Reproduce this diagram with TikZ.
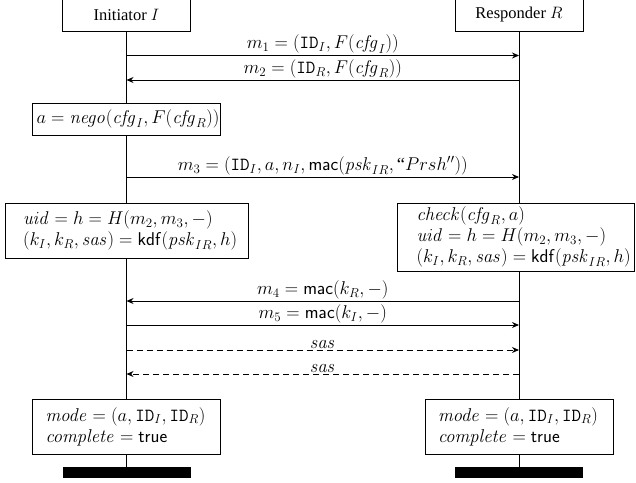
\RequirePackage{fix-cm}
\documentclass[tikz,border=0pt]{standalone}
\usepackage{amsmath}
\usepackage[no-math]{fontspec}
\setmainfont{Liberation Serif}
\usetikzlibrary{arrows.meta}
\tikzset{
  every node/.style={font=\fontsize{18.5}{21}\selectfont},
  head/.style={draw, fill=white, minimum width=128pt, minimum height=32pt, inner sep=0pt, line width=0.9pt, font=\fontsize{16.5}{20}\selectfont},
  act/.style={draw, fill=white, align=left, inner ysep=0pt, line width=0.9pt},
  bar/.style={fill=black, minimum width=128pt, minimum height=11pt, inner sep=0pt},
  msg/.style={-{Stealth[length=7pt,width=6pt]}, line width=0.9pt},
  dashmsg/.style={msg, dash pattern=on 6pt off 4pt},
  life/.style={line width=0.9pt},
  lab/.style={above, inner sep=1.5pt}
}
\begin{document}
\begin{tikzpicture}[x=1pt,y=-1pt]
\useasboundingbox (0,0) rectangle (636,482);
% bars
\node[bar] (Ibar) at (126.5,472.5) {};
\node[bar] (Rbar) at (519,472.5) {};
% headers
\node[head] (I) at (126.5,15) {Initiator $I$};
\node[head] (R) at (519,15) {Responder $R$};
% lifelines
\draw[life] (I.south) -- (Ibar.north);
\draw[life] (R.south) -- (Rbar.north);
% coordinates on lifelines
\foreach \n/\y in {1/55.5,2/80,3/177,4/301,5/325,6/350,7/374}{
  \coordinate (i\n) at (126.5,\y);
  \coordinate (r\n) at (519,\y);
}
% messages
\draw[msg] (i1) -- node[lab]{$m_1 = (\mathtt{ID}_I, F(\mathit{cfg}_I))$} (r1);
\draw[msg] (r2) -- node[lab]{$m_2 = (\mathtt{ID}_R, F(\mathit{cfg}_R))$} (i2);
\draw[msg] (i3) -- node[lab]{$m_3 = (\mathtt{ID}_I, a, n_I, \mathsf{mac}(\mathit{psk}_{IR}, \text{``}Prsh''))$} (r3);
\draw[msg] (r4) -- node[lab]{$m_4 = \mathsf{mac}(k_R, -)$} (i4);
\draw[msg] (i5) -- node[lab]{$m_5 = \mathsf{mac}(k_I, -)$} (r5);
\draw[dashmsg] (i6) -- node[lab]{$\mathit{sas}$} (r6);
\draw[dashmsg] (r7) -- node[lab]{$\mathit{sas}$} (i7);
% action boxes
\node[act, minimum height=32pt, inner xsep=4pt, text width=180pt] (nego) at (126.5,119) {\mbox{$a = \mathit{nego}(\mathit{cfg}_I, F(\mathit{cfg}_R))$}};
\node[act, minimum height=55pt, inner xsep=18pt, text width=207pt] (Ik) at (126.5,230.5) {\mbox{$\mathit{uid} = h = H(m_2, m_3, -)$}\\\mbox{$(k_I, k_R, \mathit{sas}) = \mathsf{kdf}(\mathit{psk}_{IR}, h)$}};
\node[act, minimum height=68pt, inner xsep=19pt, text width=199pt] (Rk) at (516,237) {\mbox{$\mathit{check}(\mathit{cfg}_R, a)$}\\\mbox{$\mathit{uid} = h = H(m_2, m_3, -)$}\\\mbox{$(k_I, k_R, \mathit{sas}) = \mathsf{kdf}(\mathit{psk}_{IR}, h)$}};
\node[act, minimum height=55pt, inner xsep=13pt, text width=162pt] (Ie) at (126.5,426.5) {\mbox{$\mathit{mode} = (a, \mathtt{ID}_I, \mathtt{ID}_R)$}\\\mbox{$\mathit{complete} = \mathsf{true}$}};
\node[act, minimum height=55pt, inner xsep=13pt, text width=162pt] (Re) at (519,426.5) {\mbox{$\mathit{mode} = (a, \mathtt{ID}_I, \mathtt{ID}_R)$}\\\mbox{$\mathit{complete} = \mathsf{true}$}};
\end{tikzpicture}
\end{document}
